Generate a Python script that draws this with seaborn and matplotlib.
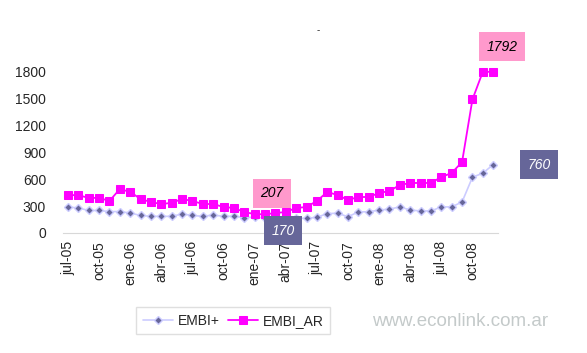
import numpy as np
import pandas as pd
import matplotlib
matplotlib.use("Agg")
import matplotlib.pyplot as plt
import seaborn as sns

months = ['jul-05', 'ago-05', 'sep-05', 'oct-05', 'nov-05', 'dic-05',
          'ene-06', 'feb-06', 'mar-06', 'abr-06', 'may-06', 'jun-06',
          'jul-06', 'ago-06', 'sep-06', 'oct-06', 'nov-06', 'dic-06',
          'ene-07', 'feb-07', 'mar-07', 'abr-07', 'may-07', 'jun-07',
          'jul-07', 'ago-07', 'sep-07', 'oct-07', 'nov-07', 'dic-07',
          'ene-08', 'feb-08', 'mar-08', 'abr-08', 'may-08', 'jun-08',
          'jul-08', 'ago-08', 'sep-08', 'oct-08', 'nov-08', 'dic-08']

embi_plus = [289, 278, 250, 250, 238, 238, 222, 195, 185, 185, 185, 211,
             195, 185, 200, 185, 185, 172, 175, 170, 175, 168, 165, 162,
             175, 215, 220, 180, 235, 235, 255, 265, 290, 255, 245, 245,
             290, 290, 345, 620, 665, 760]

embi_ar = [422, 420, 390, 390, 356, 489, 456, 378, 344, 322, 335, 378,
           356, 322, 322, 289, 278, 233, 210, 207, 222, 233, 278, 289,
           356, 456, 422, 367, 400, 400, 444, 467, 533, 556, 556, 556,
           622, 667, 789, 1485, 1792, 1792]

y_ticks = [0, 300, 600, 900, 1200, 1500, 1800]


def main():
    sns.set_style("white")
    plt.rcParams['font.family'] = ['Liberation Sans', 'DejaVu Sans']

    df = pd.DataFrame({'pos': np.arange(len(months)), 'mes': months,
                       'EMBI+': embi_plus, 'EMBI_AR': embi_ar})

    fig = plt.figure(figsize=(5.87, 3.53), dpi=100)
    ax = fig.add_axes([0.107, 0.340, 0.742, 0.535])

    sns.lineplot(data=df, x='pos', y='EMBI+', ax=ax, color='#CCCCFF', lw=1.2,
                 marker='D', markersize=4.5, markerfacecolor='#666699',
                 markeredgecolor='#CCCCFF', markeredgewidth=1.0, label='EMBI+')
    sns.lineplot(data=df, x='pos', y='EMBI_AR', ax=ax, color='#FF00FF', lw=1.3,
                 marker='s', markersize=6.3, markerfacecolor='#FF00FF',
                 markeredgecolor='#FF00FF', label='EMBI_AR')

    ax.set_xlim(-0.5, len(months) - 0.5)
    ax.set_ylim(0, 2100)
    ax.set_yticks(y_ticks)
    ax.set_yticklabels([str(v) for v in y_ticks], fontsize=10)

    # etiquetas cada 3 meses, marcas entre categorias
    ax.set_xticks(df['pos'][::3])
    ax.set_xticklabels(df['mes'][::3], rotation=90, fontsize=10)
    ax.set_xticks(np.arange(-0.5, len(months), 3), minor=True)
    ax.tick_params(axis='x', which='major', length=0, pad=6)
    ax.tick_params(axis='x', which='minor', length=5, color='#D0D0D0', direction='out')
    ax.tick_params(axis='y', length=4, color='#D0D0D0', direction='in', pad=12)
    ax.set_xlabel('')
    ax.set_ylabel('')

    for s in ['top', 'right', 'left']:
        ax.spines[s].set_visible(False)
    ax.spines['bottom'].set_color('#D8D8D8')

    pink = dict(boxstyle='square,pad=0.55', fc='#FF99CC', ec='none')
    blue = dict(boxstyle='square,pad=0.55', fc='#666699', ec='none')
    i_min = 19
    ax.annotate(str(embi_ar[i_min]), (i_min, embi_ar[i_min]), xytext=(7, 21),
                textcoords='offset pixels', ha='center', va='center',
                fontsize=10, style='italic', color='black', bbox=pink)
    ax.annotate(str(embi_plus[i_min]), (i_min, embi_plus[i_min]), xytext=(18, -13),
                textcoords='offset pixels', ha='center', va='center',
                fontsize=10, style='italic', color='white', bbox=blue)
    ax.annotate(str(embi_ar[-1]), (len(months) - 1, embi_ar[-1]), xytext=(9, 25),
                textcoords='offset pixels', ha='center', va='center',
                fontsize=10, style='italic', color='black', bbox=pink,
                annotation_clip=False)
    ax.annotate(str(embi_plus[-1]), (len(months) - 1, embi_plus[-1]), xytext=(46, 0),
                textcoords='offset pixels', ha='center', va='center',
                fontsize=10, style='italic', color='white', bbox=blue,
                annotation_clip=False)

    fig.text(0.542, 0.915, '-', fontsize=7, ha='center', va='center')

    ax.legend(loc='center', bbox_to_anchor=(0.397, 0.092),
              bbox_transform=fig.transFigure, ncol=2, fontsize=10,
              frameon=True, fancybox=False, edgecolor='#D8D8D8',
              handlelength=2.2, columnspacing=0.6, handletextpad=0.3,
              borderpad=0.5)

    fig.text(0.783, 0.088, 'www.econlink.com.ar', fontsize=13.5,
             color='#C4CACA', ha='center', va='center')

    fig.savefig('out.png', dpi=100)


if __name__ == "__main__":
    main()
